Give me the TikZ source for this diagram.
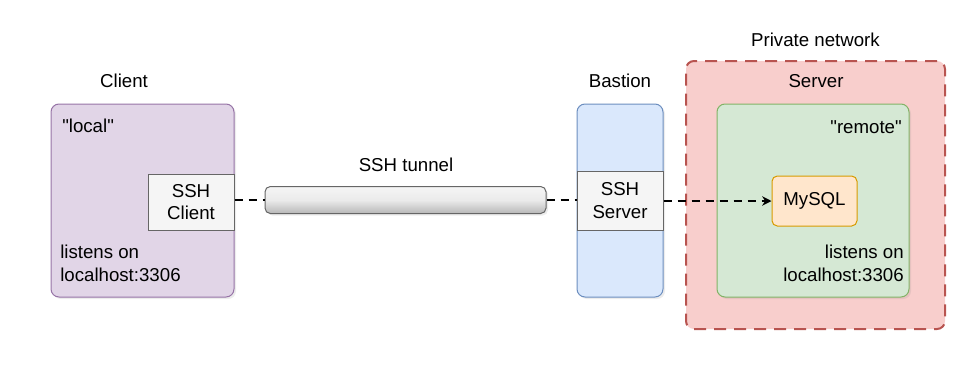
\documentclass[tikz,border=0pt]{standalone}
\usepackage{fontspec}
\newfontfamily\diagfont{Liberation Sans}
\usetikzlibrary{arrows.meta,shadows}

\definecolor{clientfill}{HTML}{E1D5E7}
\definecolor{clientline}{HTML}{9673A6}
\definecolor{bastionfill}{HTML}{DAE8FC}
\definecolor{bastionline}{HTML}{6C8EBF}
\definecolor{privfill}{HTML}{F8CECC}
\definecolor{privline}{HTML}{B85450}
\definecolor{serverfill}{HTML}{D5E8D4}
\definecolor{serverline}{HTML}{82B366}
\definecolor{sqlfill}{HTML}{FFE6CC}
\definecolor{sqlline}{HTML}{D79B00}
\definecolor{procfill}{HTML}{F5F5F5}
\definecolor{procline}{HTML}{666666}

\begin{document}
\begin{tikzpicture}[x=0.75pt,y=-0.75pt,
  every node/.style={font=\diagfont\fontsize{14}{17}\selectfont, inner sep=0pt},
  softshadow/.style={drop shadow={shadow xshift=1.5pt,shadow yshift=-1.5pt,opacity=0.15}},
  host/.style={draw, rounded corners=6pt, line width=0.75pt, softshadow, minimum width=#1},
  proc/.style={draw=procline, fill=procfill, line width=0.75pt, align=center, minimum width=64.5pt},
  link/.style={dash pattern=on 6pt off 4.5pt, line width=1.5pt, black}]
\useasboundingbox (0,0) rectangle (979,379);

\node [draw=privline, fill=privfill, rounded corners=6pt, line width=1.5pt,
  dash pattern=on 9pt off 6pt, minimum width=194.25pt, minimum height=201pt] (privnet) at (815.5,195) {};
\node (privlabel) at (815.5,40) {Private network};

\node [host=137.25pt, draw=clientline, fill=clientfill, minimum height=144.75pt] (client) at (142.5,200.5) {};
\node [host=64.5pt, draw=bastionline, fill=bastionfill, minimum height=144.75pt] (bastion) at (620,200.5) {};
\node [host=144pt, draw=serverline, fill=serverfill, minimum height=144.75pt] (server) at (813,200.5) {};

\node (clientlabel) at (124,81) {Client};
\node (bastionlabel) at (620,81) {Bastion};
\node (serverlabel) at (816,81) {Server};

\node [anchor=west] (local) at (62,126) {"local"};
\node [anchor=west, align=left] (locport) at (60,263) {listens on\\localhost:3306};
\node [anchor=east] (remote) at (902,127) {"remote"};
\node [anchor=east, align=right] (remport) at (904,263) {listens on\\localhost:3306};

\node [proc, minimum height=42pt] (sshclient) at (191,202) {SSH\\Client};
\node [proc, minimum height=44.25pt] (sshserver) at (620,200.5) {SSH\\Server};
\node [draw=sqlline, fill=sqlfill, rounded corners=4pt, line width=0.75pt,
  minimum width=63.75pt, minimum height=37.5pt] (mysql) at (814.5,201) {MySQL};

% the tunnel itself
\node [draw=procline, rounded corners=4pt, line width=0.75pt, top color=procfill,
  bottom color=black!28, middle color=black!8, softshadow, minimum width=210.75pt,
  minimum height=20.25pt] (tunnel) at (405.5,200) {};
\node (tunnellabel) at (406,165) {SSH tunnel};

\draw [link] (sshclient.east |- tunnel.west) -- (tunnel.west);
\draw [link] (tunnel.east) -- (sshserver.west |- tunnel.east);
\draw [link, -{Stealth[length=7pt,width=7pt]}] (sshserver.east |- mysql.west) -- (mysql.west);
\end{tikzpicture}
\end{document}
